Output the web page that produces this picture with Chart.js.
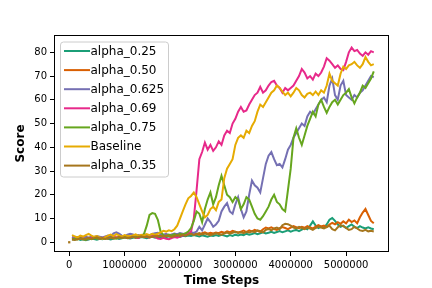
<!DOCTYPE html>
<html>
<head>
<meta charset="utf-8">
<script src="https://cdn.jsdelivr.net/npm/chart.js@4.4.0/dist/chart.umd.min.js"></script>
<style>
html, body { margin: 0; padding: 0; background: #fff; }
#wrap { width: 432px; height: 288px; }
</style>
</head>
<body>
<div id="wrap"><canvas id="scoreChart" width="432" height="288"></canvas></div>
<script>
// time steps, in thousands
const steps = [
    50, 100, 150, 200, 250, 300, 350, 400, 450, 500, 550,
    600, 650, 700, 750, 800, 850, 900, 950, 1000, 1050,
    1100, 1150, 1200, 1250, 1300, 1350, 1400, 1450, 1500, 1550,
    1600, 1650, 1700, 1750, 1800, 1850, 1900, 1950, 2000, 2050,
    2100, 2150, 2200, 2250, 2300, 2350, 2400, 2450, 2500, 2550,
    2600, 2650, 2700, 2750, 2800, 2850, 2900, 2950, 3000, 3050,
    3100, 3150, 3200, 3250, 3300, 3350, 3400, 3450, 3500, 3550,
    3600, 3650, 3700, 3750, 3800, 3850, 3900, 3950, 4000, 4050,
    4100, 4150, 4200, 4250, 4300, 4350, 4400, 4450, 4500, 4550,
    4600, 4650, 4700, 4750, 4800, 4850, 4900, 4950, 5000, 5050,
    5100, 5150, 5200, 5250, 5300, 5350, 5400, 5450, 5500
];

const alpha025 = [
    1.4, 1.2, 1.5, 1.0, 1.3, 0.9, 1.2, 1.6, 1.4, 1.1, 1.5,
    1.3, 1.7, 1.5, 1.2, 1.6, 1.9, 1.4, 1.7, 2.0, 1.8,
    1.6, 1.9, 2.1, 1.8, 2.2, 2.0, 1.7, 2.1, 2.3, 1.9,
    2.2, 2.0, 2.4, 2.1, 2.5, 2.3, 2.6, 2.4, 2.2, 2.7,
    2.5, 2.8, 2.6, 3.0, 2.7, 2.4, 2.9, 2.6, 2.3, 2.8,
    2.6, 3.0, 2.7, 3.1, 2.8, 2.5, 3.0, 2.7, 3.2, 2.9,
    3.3, 3.0, 3.6, 3.2, 3.5, 3.9, 3.4, 3.8, 4.2, 3.7,
    4.0, 4.4, 3.9, 4.3, 4.7, 4.2, 4.6, 5.0, 4.5, 4.9,
    5.2, 4.7, 5.3, 6.0, 5.5, 7.0, 8.8, 7.0, 6.0, 6.5,
    6.2, 7.5, 9.5, 10.2, 9.0, 7.5, 6.5, 7.0, 6.0, 6.8,
    7.5, 6.5, 6.0, 6.8, 6.2, 5.8, 6.3, 5.8, 5.5
];
const alpha050 = [
    2.0, 1.8, 2.1, 1.6, 1.9, 2.3, 1.7, 1.4, 2.0, 1.8, 2.2,
    1.9, 1.6, 2.2, 2.5, 2.0, 1.8, 2.3, 2.6, 2.1, 2.4,
    2.2, 2.6, 2.3, 2.0, 2.5, 2.8, 2.4, 2.7, 2.3, 2.9,
    2.6, 3.0, 2.7, 2.4, 2.9, 3.2, 2.8, 3.3, 3.0, 3.5,
    3.2, 3.7, 3.4, 3.9, 3.5, 3.2, 3.8, 4.2, 3.6, 4.0,
    3.7, 4.1, 3.8, 4.4, 4.0, 4.6, 4.2, 4.8, 4.4, 4.1,
    4.5, 4.9, 4.3, 5.0, 4.6, 5.2, 4.8, 4.4, 5.5, 6.2,
    5.8, 6.3, 5.6, 5.2, 5.9, 6.4, 6.0, 5.5, 6.2, 6.8,
    6.4, 5.9, 6.5, 6.1, 6.8, 6.3, 5.8, 6.6, 7.2, 6.7,
    7.0, 6.4, 7.5, 8.2, 7.6, 8.5, 7.8, 8.8, 8.0, 9.5,
    8.5, 9.2, 8.0, 10.5, 12.5, 14.0, 11.5, 9.0, 8.0
];
const alpha0625 = [
    2.2, 1.8, 2.0, 1.5, 1.7, 2.2, 1.9, 2.4, 2.1, 2.6, 2.3,
    2.0, 2.4, 2.8, 2.5, 3.8, 4.2, 3.6, 2.8, 2.5, 3.2,
    3.6, 3.3, 2.8, 3.0, 2.7, 3.4, 3.1, 2.9, 3.5, 3.8,
    4.0, 3.5, 3.2, 3.6, 3.0, 3.3, 3.7, 3.4, 3.9, 3.6,
    3.3, 3.8, 4.2, 3.9, 4.5, 6.5, 5.0, 7.5, 10.0, 8.5,
    6.5, 7.5, 9.0, 13.0, 15.0, 16.5, 13.0, 12.0, 16.0, 19.0,
    14.0, 10.5, 13.0, 20.0, 26.0, 24.0, 23.0, 21.0, 27.0, 33.0,
    36.5, 38.0, 35.0, 32.5, 33.0, 31.5, 35.0, 39.0, 41.0, 44.0,
    46.0, 48.0, 50.0, 49.0, 53.0, 55.0, 54.0, 56.0, 58.0, 60.0,
    61.0, 59.0, 66.0, 69.0, 62.0, 60.0, 66.0, 68.0, 62.0, 61.0,
    60.0, 62.0, 61.0, 63.0, 64.0, 66.0, 68.0, 70.0, 69.5
];
const alpha069 = [
    1.5, 1.5, 1.8, 2.2, 1.6, 1.2, 1.4, 1.9, 2.3, 1.7, 1.5,
    1.8, 2.1, 1.6, 1.9, 2.4, 2.0, 1.7, 2.2, 2.5, 2.1,
    1.9, 2.3, 2.0, 1.8, 2.4, 2.7, 2.2, 2.0, 2.6, 2.3,
    1.6, 1.4, 1.9, 1.5, 1.3, 1.8, 2.2, 1.9, 2.4, 2.8,
    3.1, 3.6, 4.5, 10.0, 22.0, 35.0, 38.0, 42.0, 39.0, 41.0,
    38.5, 40.0, 42.5, 41.0, 45.0, 47.0, 46.0, 50.0, 52.0, 55.0,
    57.0, 55.0, 55.5, 58.0, 60.0, 62.0, 63.0, 65.5, 63.0, 64.0,
    66.0, 67.5, 68.0, 66.0, 65.0, 63.0, 65.0, 64.0, 65.0, 66.0,
    68.0, 70.0, 73.0, 71.5, 69.0, 70.0, 68.5, 71.0, 70.0, 71.5,
    74.0, 77.5, 76.5, 75.0, 73.5, 74.5, 73.0, 72.5, 76.0, 80.0,
    82.0, 80.5, 81.0, 79.5, 78.5, 80.0, 79.0, 80.5, 80.0
];
const alpha075 = [
    1.2, 1.5, 1.2, 1.8, 1.4, 1.0, 1.6, 1.3, 1.9, 1.5, 1.7,
    1.4, 1.8, 1.6, 2.1, 1.7, 1.5, 2.0, 1.8, 2.3, 1.9,
    2.1, 2.4, 2.0, 2.6, 2.4, 3.5, 7.0, 11.5, 12.3, 12.0,
    9.5, 4.5, 3.0, 2.6, 3.2, 2.8, 3.4, 3.0, 3.6, 3.3,
    3.8, 4.5, 6.0, 9.0, 13.0, 12.0, 8.5, 14.0, 18.0, 21.0,
    16.0, 19.0, 24.0, 28.0, 24.0, 20.0, 19.0, 17.0, 19.0, 18.0,
    14.0, 16.0, 19.0, 18.0, 15.0, 12.0, 10.0, 9.5, 11.0, 13.0,
    15.0, 18.0, 20.0, 17.0, 16.0, 14.0, 13.0, 22.0, 31.0, 44.0,
    48.0, 44.0, 41.0, 45.0, 49.0, 52.0, 55.0, 53.0, 58.0, 60.0,
    57.0, 54.5, 57.0, 59.0, 60.0, 58.0, 60.0, 62.0, 63.0, 64.5,
    61.0, 58.5, 61.0, 63.0, 66.0, 65.0, 67.0, 69.0, 72.0
];
const baseline = [
    3.0, 2.5, 2.0, 2.8, 2.4, 3.0, 3.5, 2.8, 2.3, 2.6, 2.0,
    1.5, 2.2, 2.8, 3.2, 2.6, 3.4, 2.9, 2.4, 3.0, 2.7,
    2.5, 2.9, 3.3, 2.7, 3.1, 2.8, 3.4, 3.0, 3.6, 3.2,
    3.6, 4.2, 4.8, 4.5, 5.0, 4.7, 5.5, 7.0, 10.0, 13.0,
    16.0, 18.5, 19.5, 21.0, 19.0, 16.0, 13.0, 10.5, 11.5, 14.0,
    15.0, 13.5, 17.0, 18.0, 27.0, 31.0, 33.0, 35.0, 41.0, 44.0,
    45.0, 44.0, 47.0, 46.0, 49.0, 51.0, 55.0, 58.0, 57.0, 59.0,
    61.0, 63.0, 64.0, 66.0, 65.0, 63.5, 62.0, 63.0, 61.5, 63.0,
    65.0, 64.0, 62.0, 61.0, 62.5, 63.0, 62.0, 63.5, 62.0, 64.0,
    63.0, 66.0, 71.0, 68.0, 67.0, 66.0, 71.0, 74.0, 73.0, 74.5,
    75.0, 76.0, 74.5, 73.5, 75.0, 78.0, 76.0, 74.5, 75.0
];
const alpha035 = [
    1.2, 1.0, 1.3, 1.6, 1.2, 1.5, 1.9, 1.4, 1.7, 2.1, 1.6,
    1.8, 1.4, 1.7, 2.0, 1.6, 1.9, 2.2, 1.8, 2.1, 1.7,
    2.0, 2.3, 1.9, 2.2, 2.5, 2.1, 2.4, 2.0, 2.3, 2.6,
    2.3, 2.7, 2.4, 2.8, 2.5, 2.2, 2.6, 3.0, 2.7, 3.1,
    2.8, 3.2, 3.6, 3.0, 3.5, 3.9, 3.3, 3.7, 3.4, 3.0,
    3.4, 3.8, 3.5, 3.2, 3.7, 4.1, 3.6, 4.0, 4.4, 3.9,
    4.2, 3.8, 4.4, 4.1, 4.6, 4.3, 5.0, 4.7, 4.2, 5.2,
    5.6, 5.0, 5.8, 6.2, 5.5, 7.2, 7.8, 7.6, 7.0, 6.2,
    5.8, 6.5, 6.0, 5.5, 6.2, 5.8, 5.2, 6.0, 6.6, 6.2,
    5.8, 6.4, 7.0, 5.5, 5.0, 6.3, 7.2, 6.8, 6.0, 5.2,
    5.5, 6.5, 5.8, 5.0, 4.8, 5.2, 4.6, 4.8, 4.5
];
// lone first point at step 0
const originStep = 0;
const originScore = 0;

const seriesNames = ['alpha_0.25', 'alpha_0.50', 'alpha_0.625', 'alpha_0.69', 'alpha_0.75', 'Baseline', 'alpha_0.35'];
const seriesColors = ['#1b9e77', '#d95f02', '#7570b3', '#e7298a', '#66a61e', '#e6ab02', '#a6761d'];
const seriesValues = [alpha025, alpha050, alpha0625, alpha069, alpha075, baseline, alpha035];

const xTicks = [0, 1000000, 2000000, 3000000, 4000000, 5000000];
const yTicks = [0, 10, 20, 30, 40, 50, 60, 70, 80];

const FONT = "'DejaVu Sans', sans-serif";

const datasets = seriesValues.map((vals, i) => ({
    label: seriesNames[i],
    data: vals.map((v, j) => ({ x: steps[j] * 1000, y: v })),
    borderColor: seriesColors[i],
    backgroundColor: seriesColors[i],
    borderWidth: 2,
    pointRadius: 0,
    tension: 0,
    fill: false,
    order: seriesValues.length - i   // later series drawn on top, like matplotlib
}));
datasets.push({
    label: 'origin',
    data: [{ x: originStep, y: originScore }],
    showLine: false,
    pointStyle: 'rect',
    pointRadius: 1.6,
    borderWidth: 0,
    backgroundColor: seriesColors[6],
    order: 0
});

// black box round the plot area
const frame = {
    id: 'frame',
    afterDraw(chart) {
        const { ctx, chartArea: a } = chart;
        ctx.save();
        ctx.strokeStyle = '#000';
        ctx.lineWidth = 1;
        ctx.strokeRect(Math.round(a.left) + 0.5, Math.round(a.top) + 0.5,
            Math.round(a.right - a.left) - 1, Math.round(a.bottom - a.top) - 1);
        ctx.restore();
    }
};

// matplotlib-like legend in the upper left corner
const legendBox = {
    id: 'legendBox',
    afterDraw(chart) {
        const { ctx, chartArea: a } = chart;
        const x0 = a.left + 6, y0 = a.top + 6.5;
        const w = 108, h = 135;
        ctx.save();
        ctx.beginPath();
        ctx.roundRect(x0 + 0.5, y0 + 0.5, w, h, 3);
        ctx.fillStyle = 'rgba(255,255,255,0.8)';
        ctx.fill();
        ctx.strokeStyle = '#cccccc';
        ctx.lineWidth = 1;
        ctx.stroke();
        ctx.font = '12px ' + FONT;
        ctx.textBaseline = 'middle';
        ctx.textAlign = 'left';
        seriesNames.forEach((name, i) => {
            const y = y0 + 9.5 + i * 19.1;
            ctx.beginPath();
            ctx.moveTo(x0 + 4, y);
            ctx.lineTo(x0 + 30, y);
            ctx.strokeStyle = seriesColors[i];
            ctx.lineWidth = 2;
            ctx.stroke();
            ctx.fillStyle = '#000';
            ctx.fillText(name, x0 + 30.5, y + 0.5);
        });
        ctx.restore();
    }
};

const ctx = document.getElementById('scoreChart').getContext('2d');
const scoreChart = new Chart(ctx, {
    type: 'line',
    data: { datasets },
    options: {
        responsive: false,
        animation: false,
        devicePixelRatio: 1,
        layout: { padding: { left: 0, right: 43, top: 35, bottom: 0 } },
        plugins: { legend: { display: false }, tooltip: { enabled: false } },
        scales: {
            x: {
                type: 'linear',
                min: -275000,
                max: 5775000,
                afterBuildTicks: axis => { axis.ticks = xTicks.map(v => ({ value: v })); },
                afterFit: axis => { axis.height = 36; },
                grid: { display: true, drawOnChartArea: false, drawTicks: true, tickLength: 4, tickColor: '#000', tickWidth: 1 },
                border: { display: false },
                ticks: { color: '#000', font: { family: FONT, size: 10 }, padding: 3, maxRotation: 0, autoSkip: false, callback: v => String(v) },
                title: { display: true, text: 'Time Steps', color: '#000', font: { family: FONT, size: 12, weight: 'bold' }, padding: { top: 2, bottom: 0 } }
            },
            y: {
                type: 'linear',
                min: -4.1,
                max: 87.3,
                afterBuildTicks: axis => { axis.ticks = yTicks.map(v => ({ value: v })); },
                afterFit: axis => { axis.width = 54; },
                grid: { display: true, drawOnChartArea: false, drawTicks: true, tickLength: 4, tickColor: '#000', tickWidth: 1 },
                border: { display: false },
                ticks: { color: '#000', font: { family: FONT, size: 10 }, padding: 3, autoSkip: false, callback: v => String(v) },
                title: { display: true, text: 'Score', color: '#000', font: { family: FONT, size: 12, weight: 'bold' }, padding: { top: 14, bottom: 0 } }
            }
        }
    },
    plugins: [frame, legendBox]
});
</script>
</body>
</html>
